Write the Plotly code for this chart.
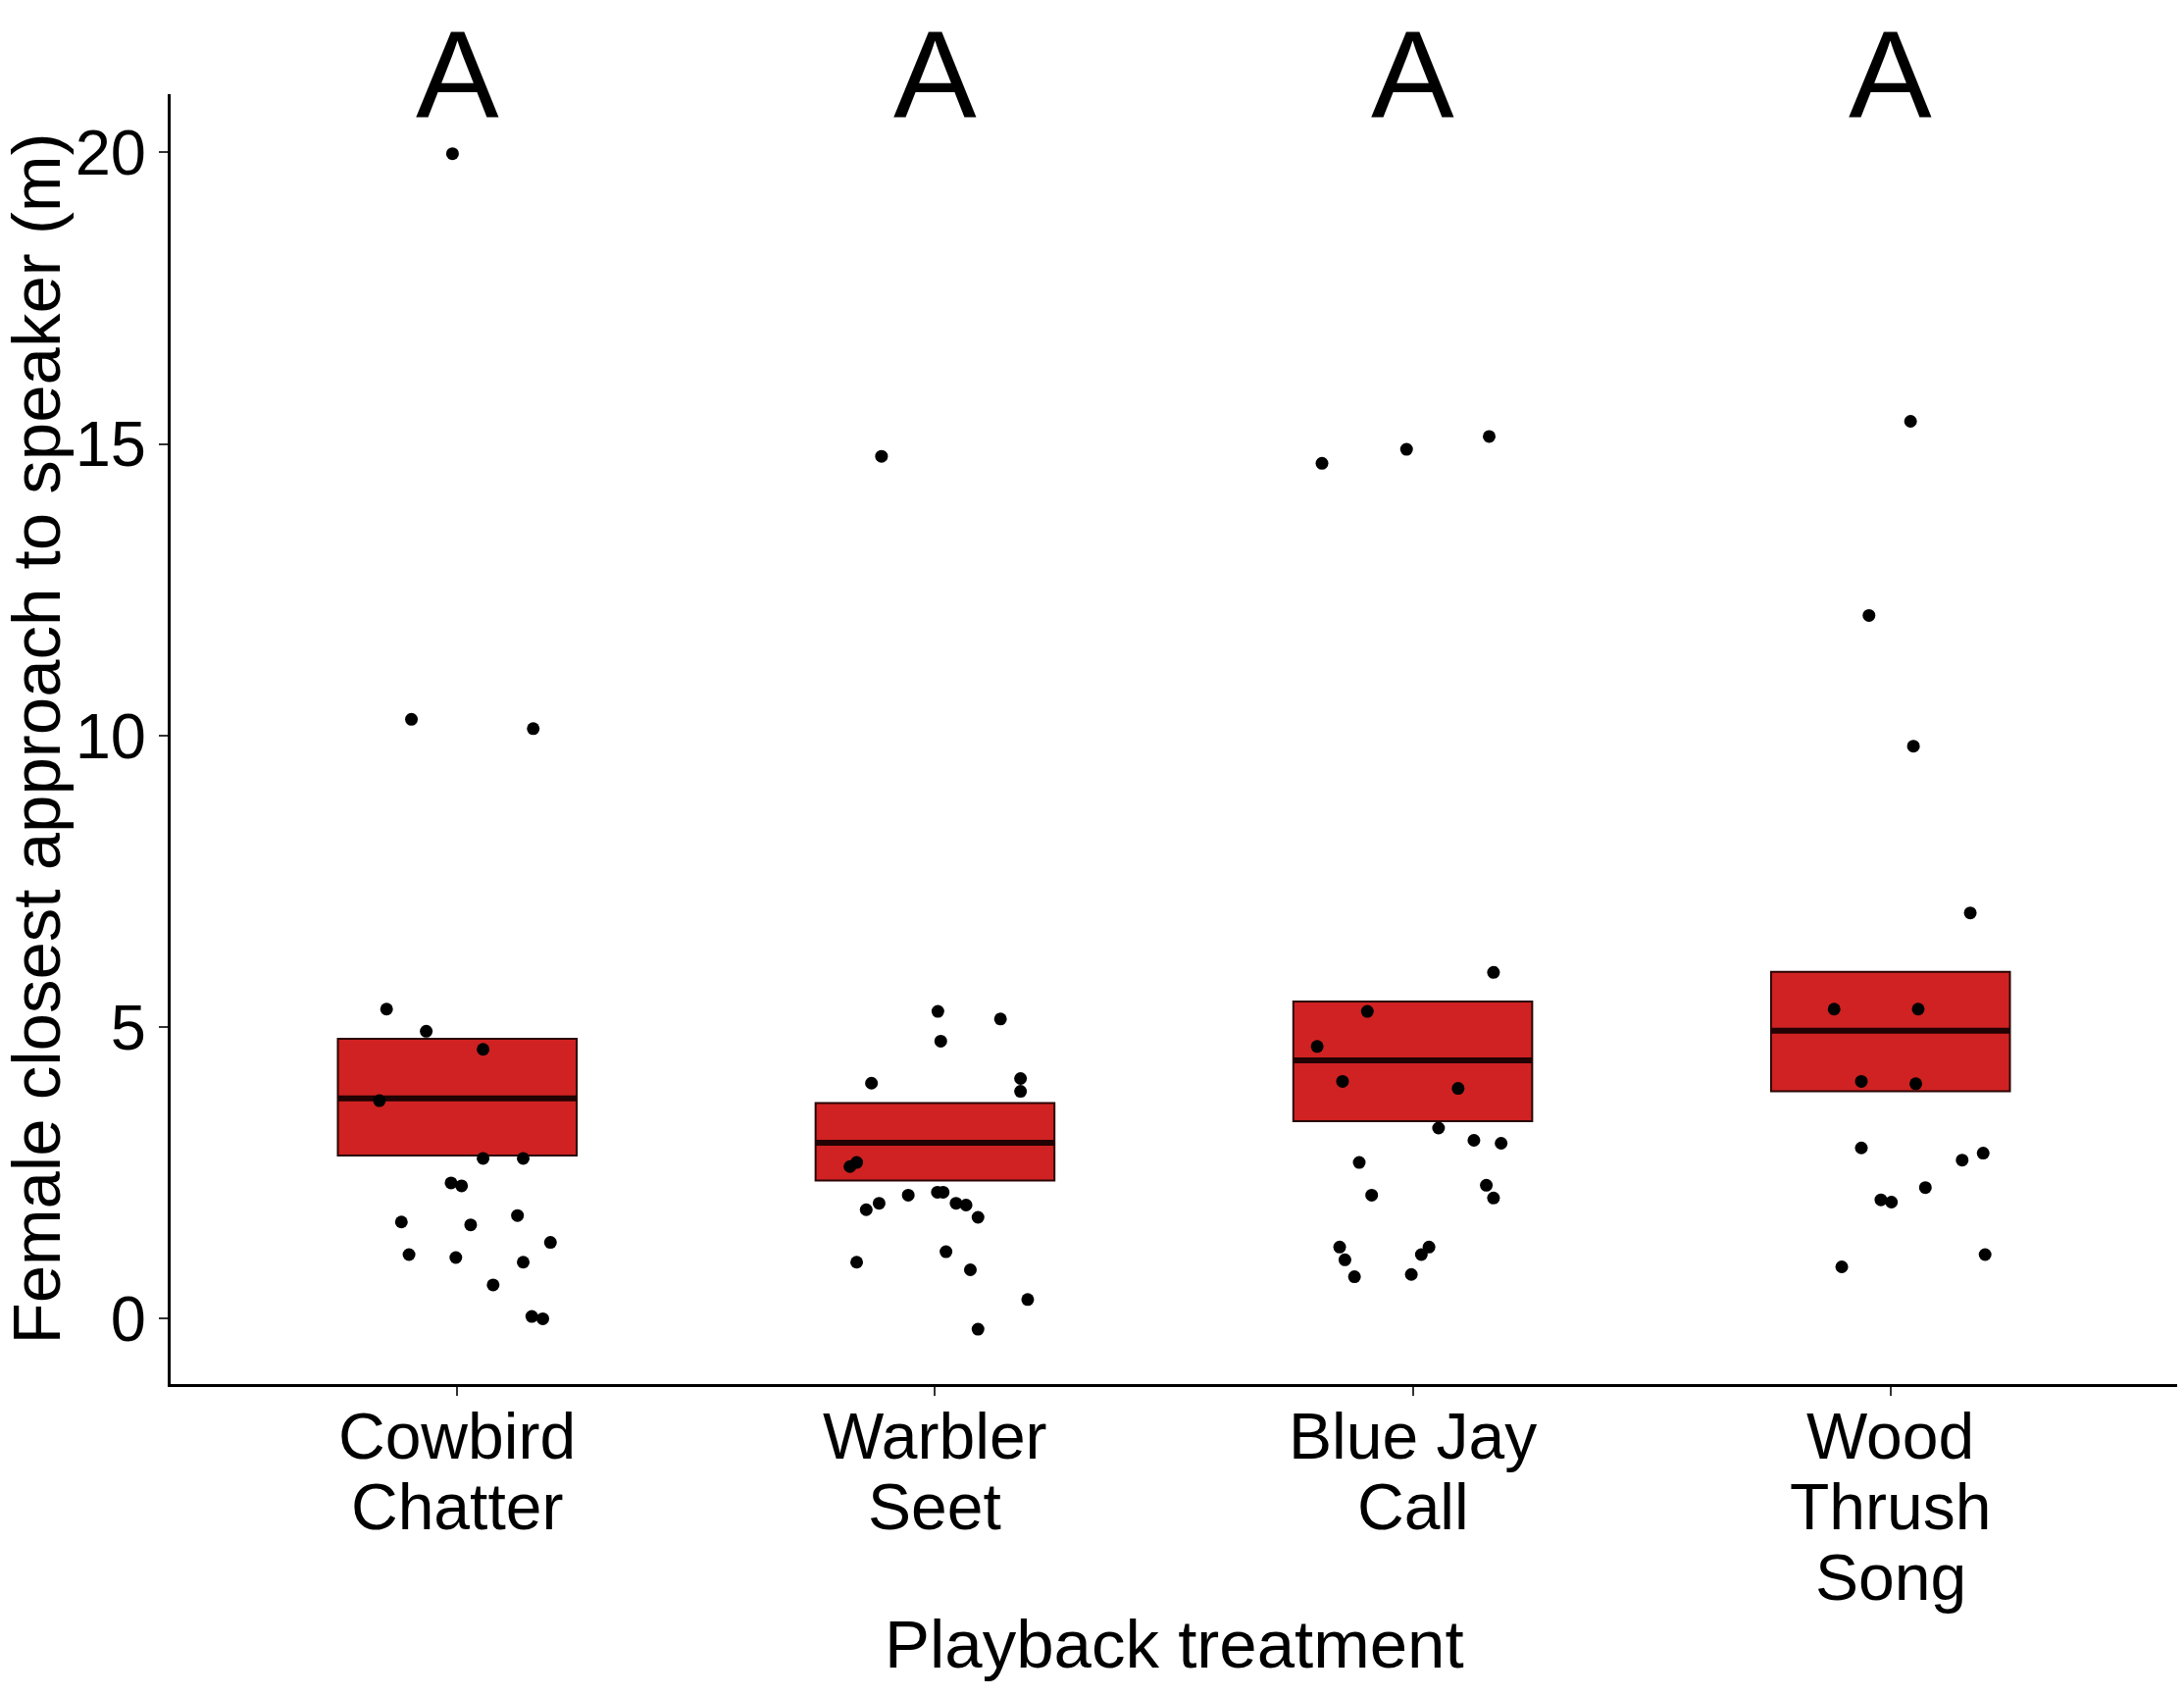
import plotly.graph_objects as go

# ---------------- data ----------------
categories = ["Cowbird\nChatter", "Warbler\nSeet", "Blue Jay\nCall", "Wood\nThrush\nSong"]
group_letters = ["A", "A", "A", "A"]

cowbird_vals = [19.98, 10.28, 10.12, 5.31, 4.93, 4.62, 3.74, 2.75, 2.75, 2.33, 2.28,
                1.66, 1.61, 1.77, 1.31, 1.10, 1.05, 0.97, 0.58, 0.04, 0.00]
cowbird_jit = [-0.01, -0.096, 0.159, -0.148, -0.065, 0.054, -0.163, 0.054, 0.138, -0.013, 0.009,
               -0.117, 0.028, 0.126, 0.195, -0.101, -0.003, 0.138, 0.075, 0.156, 0.179]

warbler_vals = [14.79, 5.27, 5.14, 4.76, 4.04, 4.12, 3.90, 2.61, 2.68, 1.87, 1.98,
                2.12, 2.17, 2.17, 1.98, 1.95, 1.74, 0.97, 1.15, 0.84, 0.33, -0.18]
warbler_jit = [-0.112, 0.006, 0.137, 0.012, -0.133, 0.179, 0.179, -0.178, -0.164, -0.144, -0.117,
               -0.056, 0.005, 0.017, 0.044, 0.065, 0.090, -0.164, 0.023, 0.074, 0.194, 0.090]

bluejay_vals = [14.67, 14.91, 15.13, 5.94, 5.27, 4.67, 4.07, 3.95, 3.27, 3.06, 3.01,
                2.68, 2.29, 2.12, 2.07, 1.23, 1.23, 1.10, 1.01, 0.76, 0.72]
bluejay_jit = [-0.19, -0.013, 0.16, 0.169, -0.095, -0.2, -0.147, 0.095, 0.054, 0.128, 0.185,
               -0.112, 0.154, -0.086, 0.169, -0.153, 0.034, 0.018, -0.142, -0.003, -0.122]

woodthrush_vals = [15.39, 12.06, 9.82, 6.96, 5.31, 5.31, 4.07, 4.03, 2.93, 2.72, 2.84,
                   2.25, 2.04, 2.00, 0.89, 1.10]
woodthrush_jit = [0.042, -0.045, 0.048, 0.167, -0.118, 0.058, -0.061, 0.053, -0.061, 0.150, 0.194,
                  0.073, -0.020, 0.002, -0.102, 0.198]

box_low = [2.80, 2.37, 3.39, 3.90]
box_mid = [3.78, 3.02, 4.43, 4.94]
box_high = [4.80, 3.70, 5.44, 5.95]

y_ticks = [0, 5, 10, 15, 20]

# ---------------- figure ----------------
FONT = "Liberation Sans, Arial, sans-serif"
BOX_W = 0.5
idx = list(range(len(categories)))

fig = go.Figure()

# boxes (crossbars)
fig.add_trace(go.Bar(
    x=idx, base=box_low, y=[h - l for h, l in zip(box_high, box_low)],
    width=BOX_W, marker=dict(color="#D02222", line=dict(color="#2a0505", width=2)),
    showlegend=False, hoverinfo="skip"))

# median lines
mx, my = [], []
for i, m in zip(idx, box_mid):
    mx += [i - BOX_W / 2, i + BOX_W / 2, None]
    my += [m, m, None]
fig.add_trace(go.Scatter(x=mx, y=my, mode="lines",
                         line=dict(color="#220202", width=6), showlegend=False, hoverinfo="skip"))

# jittered points
groups = [(cowbird_vals, cowbird_jit), (warbler_vals, warbler_jit),
          (bluejay_vals, bluejay_jit), (woodthrush_vals, woodthrush_jit)]
for i, (vals, jit) in enumerate(groups):
    fig.add_trace(go.Scatter(
        x=[i + j for j in jit], y=vals, mode="markers",
        marker=dict(color="black", size=13, line=dict(width=0)),
        showlegend=False, cliponaxis=False))

annotations = []
# significance letters (above the panel)
for i, letter in zip(idx, group_letters):
    annotations.append(dict(x=i, y=1.0715, xref="x", yref="paper", text=letter, showarrow=False,
                            xanchor="center", yanchor="top",
                            font=dict(family=FONT, size=127, color="black")))
# x tick labels (multi-line, tighter line spacing than plotly default)
LINE_H = 72
for i, cat in zip(idx, categories):
    for j, line in enumerate(cat.split("\n")):
        annotations.append(dict(x=i, y=0, xref="x", yref="paper", text=line, showarrow=False,
                                xanchor="center", yanchor="top", yshift=-14 - LINE_H * j,
                                font=dict(family=FONT, size=66, color="black")))
# axis titles
annotations.append(dict(x=0.5, y=0, xref="paper", yref="paper", text="Playback treatment",
                        showarrow=False, xanchor="center", yanchor="middle", yshift=-265,
                        font=dict(family=FONT, size=69, color="black")))
annotations.append(dict(x=0, y=0.5, xref="paper", yref="paper",
                        text="Female closest approach to speaker (m)", textangle=-90,
                        showarrow=False, xanchor="center", yanchor="middle", xshift=-137,
                        font=dict(family=FONT, size=69, color="black")))

fig.update_layout(
    width=2227, height=1729,
    margin=dict(l=174, r=7, t=96, b=318),
    paper_bgcolor="white", plot_bgcolor="white",
    barmode="overlay",
    font=dict(family=FONT, color="black"),
    annotations=annotations,
    xaxis=dict(range=[-0.6, 3.6], tickvals=idx, showticklabels=False,
               showgrid=False, zeroline=False,
               showline=True, linecolor="black", linewidth=3,
               ticks="outside", ticklen=9, tickwidth=2, tickcolor="#333333"),
    yaxis=dict(range=[-1.12, 21.0], tickvals=y_ticks, ticktext=[str(t) for t in y_ticks],
               showgrid=False, zeroline=False,
               showline=True, linecolor="black", linewidth=3,
               ticks="outside", ticklen=9, tickwidth=2, tickcolor="#333333",
               tickfont=dict(family=FONT, size=65, color="black")),
)

fig.write_html("out.html", config={"displayModeBar": False},
               post_script="document.body.style.margin='0';")
